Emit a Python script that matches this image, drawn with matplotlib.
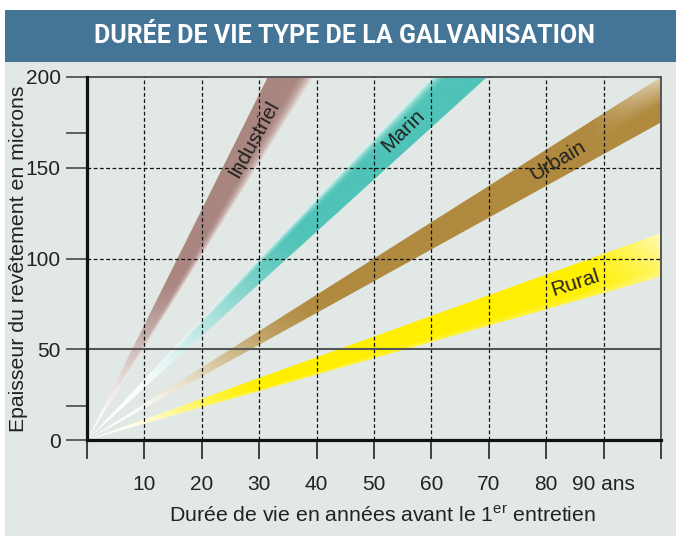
import numpy as np
import matplotlib
matplotlib.use("Agg")
import matplotlib.pyplot as plt
from matplotlib.patches import Rectangle, Polygon

plt.rcParams['font.family'] = ['Liberation Sans', 'DejaVu Sans']
plt.rcParams['mathtext.fontset'] = 'custom'
plt.rcParams['mathtext.rm'] = 'Liberation Sans'

# ---------------- data ----------------
title = "DURÉE DE VIE TYPE DE LA GALVANISATION"
xlabel = r"Durée de vie en années avant le 1$^{\mathrm{er}}$ entretien"
ylabel = "Epaisseur du revêtement en microns"

environments = ["Industriel", "Marin", "Urbain", "Rural"]
rate_high = [6.35, 3.33, 2.00, 1.14]   # µm consumed per year (upper edge)
rate_low = [5.08, 2.87, 1.75, 0.90]    # µm consumed per year (lower edge)
label_x = [29, 55, 82, 85]             # year at which the band name is written

x_ticks = [0, 10, 20, 30, 40, 50, 60, 70, 80, 90, 100]
x_tick_labels = ["", "10", "20", "30", "40", "50", "60", "70", "80", "90 ans", ""]
y_ticks = [0, 50, 100, 150, 200]
y_tick_labels = ["0", "50", "100", "150", "200"]
y_minor_ticks = [19, 169]

# ---------------- style ----------------
colors = ["#a98680", "#4fc3b7", "#b08a3e", "#ffef00"]
fade_start = [0.00, 0.10, 0.05, 0.02]
fade_end = [0.50, 0.72, 0.58, 0.36]
bg = "#e1e8e6"
blue = "#457596"

W, H = 676, 536
fig = plt.figure(figsize=(W / 100, H / 100), dpi=100, facecolor="white")
fig.patches.append(Rectangle((5 / W, 0), 1 - 5 / W, 1 - 62 / H, transform=fig.transFigure,
                             facecolor=bg, edgecolor="none", zorder=-2))
fig.patches.append(Rectangle((5 / W, 1 - 62 / H), 1 - 5 / W, 52 / H, transform=fig.transFigure,
                             facecolor=blue, edgecolor="none", zorder=-2))
fig.text(345 / W, 1 - 36 / H, title, ha="center", va="center", color="white",
         fontsize=18, fontweight="bold", family=["Roboto", "DejaVu Sans"])

ax = fig.add_axes([87 / W, 1 - 440 / H, (661 - 87) / W, (440 - 77) / H])
ax.set_zorder(1)
ax.set_facecolor(bg)
ax.set_xlim(0, 100)
ax.set_ylim(0, 200)

# gradient bands
nx, ny = 1200, 800
xs = np.linspace(0, 100, nx)
ys = np.linspace(0, 200, ny)
X, Y = np.meshgrid(xs, ys)
D = np.hypot(X / 100, Y / 200)
slope = Y / np.maximum(X, 1e-6)


def smooth(t):
    t = np.clip(t, 0, 1)
    return t * t * (3 - 2 * t)


def lighten(i, s):
    if i == 0:
        return 0.75 * np.clip(1 - s / 0.35, 0, 1) ** 2
    if i == 1:
        return 0.85 * np.clip((s - 0.65) / 0.35, 0, 1) ** 2
    if i == 2:
        return 0.6 * np.clip((X - 88) / 12, 0, 1) * np.clip((s - 0.4) / 0.6, 0, 1)
    return 0.75 * np.clip((X - 86) / 14, 0, 1) ** 1.3 * (0.4 + 0.6 * s) + 0.25 * np.clip(1 - s / 0.2, 0, 1)


for i, name in enumerate(environments):
    hi, lo = rate_high[i], rate_low[i]
    s = np.clip((slope - lo) / (hi - lo), 0, 1)
    w = smooth((D - fade_start[i]) / (fade_end[i] - fade_start[i]))
    w = w * (1 - lighten(i, s))
    base = np.array(matplotlib.colors.to_rgb(colors[i]))
    img = np.ones((ny, nx, 4))
    img[..., :3] = 1 + (base - 1) * w[..., None]
    im = ax.imshow(img, origin="lower", extent=[0, 100, 0, 200], aspect="auto",
                   interpolation="bilinear", zorder=1)
    big = 1000
    poly = Polygon([(0, 0), (big, hi * big), (big, lo * big)], closed=True,
                   transform=ax.transData)
    im.set_clip_path(poly)

ax.set_xlim(0, 100)
ax.set_ylim(0, 200)

# grid
for xv in x_ticks[1:-1]:
    ax.axvline(xv, color="#111", lw=0.9, ls=(0, (3, 2)), zorder=3)
for yv in y_ticks[2:-1]:
    ax.axhline(yv, color="#111", lw=0.9, ls=(0, (3, 2)), zorder=3)
ax.axhline(y_ticks[1], color="#555", lw=1.5, zorder=3)

# band names
for i, name in enumerate(environments):
    mid = (rate_high[i] + rate_low[i]) / 2
    p0 = ax.transData.transform((0, 0))
    p1 = ax.transData.transform((100, mid * 100))
    ang = np.degrees(np.arctan2(p1[1] - p0[1], p1[0] - p0[0]))
    ax.text(label_x[i], mid * label_x[i], name, rotation=ang, rotation_mode="anchor",
            ha="center", va="center", fontsize=15, color="#222", zorder=4)

# spines
for side in ["left", "bottom"]:
    ax.spines[side].set_linewidth(2.3)
    ax.spines[side].set_color("#111")
    ax.spines[side].set_zorder(5)
for side in ["top", "right"]:
    ax.spines[side].set_linewidth(1.4)
    ax.spines[side].set_color("#555")

ax.set_xticks(x_ticks)
ax.set_xticklabels(x_tick_labels)
ax.set_yticks(y_ticks)
ax.set_yticklabels(y_tick_labels)
ax.set_yticks(y_minor_ticks, minor=True)
ax.tick_params(axis="x", length=14, width=1.3, color="#333", pad=11, labelsize=15,
               labelcolor="#222")
ax.tick_params(axis="y", which="major", length=15, width=1.3, color="#555", pad=4,
               labelsize=15, labelcolor="#222")
ax.tick_params(axis="y", which="minor", length=15, width=1.3, color="#555")

fig.text(383 / W, 1 - 516 / H, xlabel, ha="center", va="center", fontsize=15.3, color="#222")
fig.text(19 / W, 1 - 259 / H, ylabel, ha="center", va="center", rotation=90,
         fontsize=15.3, color="#222")

fig.savefig("out.png", dpi=100, facecolor="white")
